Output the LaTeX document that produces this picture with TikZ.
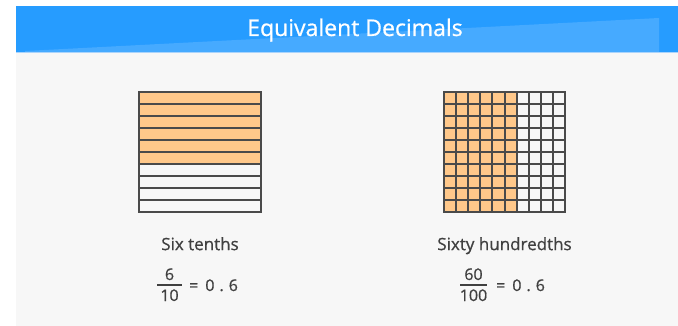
\documentclass[tikz,border=0pt]{standalone}
\usepackage{fontspec}
\setmainfont{Open Sans}[FakeBold=0.7]
\usetikzlibrary{positioning,calc}
\definecolor{bannerblue}{RGB}{38,156,255}
\definecolor{bannerlight}{RGB}{70,170,255}
\definecolor{bannerline}{RGB}{170,212,252}
\definecolor{panelgray}{RGB}{247,247,247}
\definecolor{gridgray}{RGB}{74,74,74}
\definecolor{partorange}{RGB}{255,200,138}
\definecolor{textgray}{RGB}{64,64,64}
\tikzset{
  gridbox/.style={
    rectangle, inner sep=0pt, outer sep=0pt, minimum height=120pt
  },
  gridline/.style={draw=gridgray, line width=2pt},
  namelabel/.style={text=textgray, inner sep=0pt, font=\fontsize{17}{20}\selectfont},
  numlabel/.style={text=textgray, inner sep=0pt, anchor=base, font=\fontsize{16}{19}\selectfont},
  fracbar/.style={draw=textgray, line width=1.3pt}
}

\begin{document}
\begin{tikzpicture}[x=1pt, y=-1pt]
    \useasboundingbox (0,0) rectangle (678,326);
    % Fondo y cabecera
    \fill[panelgray] (16,52) rectangle (678,326);
    \fill[bannerblue] (16,6) rectangle (678,52);
    \fill[bannerlight] (25,51) -- (659,18) -- (659,52) -- (25,52) -- cycle;
    \draw[bannerline, line width=1pt] (16,52.5) -- (678,52.5);
    \node[text=white, anchor=base, inner sep=0pt, font=\fontsize{23}{27}\selectfont]
                                                    (title) at (355,36) {Equivalent Decimals};
    % Cuadros
    \node[gridbox, minimum width=122pt] (tengrid)  at (200,152)   {};
    \node[gridbox, minimum width=121pt] (hundgrid) at (504.5,152) {};
    \fill[partorange] (tengrid.north west) rectangle ($(tengrid.east)+(0,12)$);
    \fill[partorange] (hundgrid.north west) rectangle ($(hundgrid.south west)+(72.6,0)$);
    \foreach \r in {1,...,9} {
      \draw[gridline] ($(tengrid.north west)+(0,12*\r)$) -- ($(tengrid.north east)+(0,12*\r)$);
      \draw[gridline] ($(hundgrid.north west)+(0,12*\r)$) -- ($(hundgrid.north east)+(0,12*\r)$);
      \draw[gridline] ($(hundgrid.north west)+(12.1*\r,0)$) -- ($(hundgrid.south west)+(12.1*\r,0)$);
    }
    \draw[gridline] (tengrid.north west) rectangle (tengrid.south east);
    \draw[gridline] (hundgrid.north west) rectangle (hundgrid.south east);
    % Nombres
    \node[namelabel, below=25pt of tengrid]  (tenname)  {Six tenths};
    \node[namelabel, below=25pt of hundgrid] (hundname) {Sixty hundredths};
    % Fracciones
    \coordinate (tenbar) at (169.5,285);
    \node[numlabel] (tennum) at (169.5,280) {6};
    \node[numlabel] (tenden) at (169.5,301) {10};
    \draw[fracbar] ([xshift=-12.5pt]tenbar) -- ([xshift=12.5pt]tenbar);
    \node[numlabel, anchor=base west] (tenval) at (189,291)
         {=\hspace{7pt}0\hspace{5pt}.\hspace{5pt}6};
    \coordinate (hundbar) at (473.5,285);
    \node[numlabel] (hundnum) at (473.5,280) {60};
    \node[numlabel] (hundden) at (473.5,301) {100};
    \draw[fracbar] ([xshift=-13.5pt]hundbar) -- ([xshift=13.5pt]hundbar);
    \node[numlabel, anchor=base west] (hundval) at (496,291)
         {=\hspace{7pt}0\hspace{5pt}.\hspace{5pt}6};
  \end{tikzpicture}
\end{document}
